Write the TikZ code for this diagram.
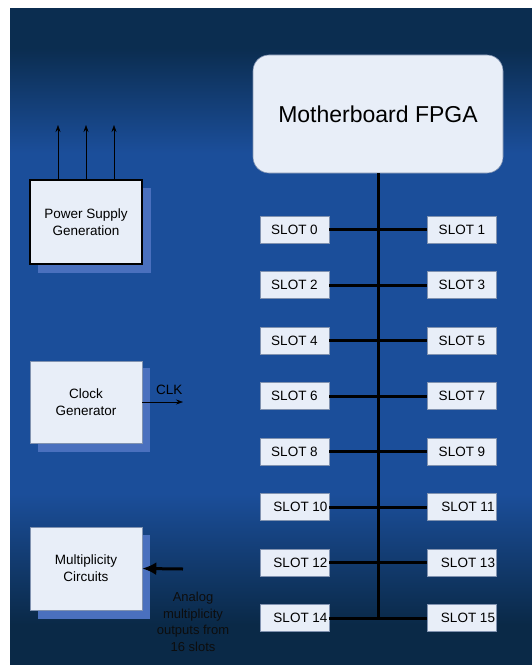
\documentclass[tikz,border=0pt]{standalone}
\usepackage{fontspec}
\setmainfont{Liberation Sans}
\usetikzlibrary{arrows.meta}

\definecolor{navytop}{HTML}{0B2D50}
\definecolor{navybot}{HTML}{0A2947}
\definecolor{midblue}{HTML}{1B4E9A}
\definecolor{boxfill}{HTML}{E8EEF8}
\definecolor{boxline}{HTML}{8092B0}
\definecolor{shadowblue}{HTML}{4A70BE}

% vertical backdrop: dark at both ends, bright blue in the middle
% (TikZ fits the central 25bp--75bp band of the shading to the path)
\pgfdeclareverticalshading{boardbg}{100bp}{%
  color(0bp)=(navybot); color(28bp)=(navybot); color(38bp)=(midblue);
  color(64bp)=(midblue); color(72bp)=(navytop); color(100bp)=(navytop)}

\tikzset{
  slotbox/.style={draw=boxline, line width=0.6pt, fill=boxfill,
    minimum width=69pt, minimum height=27pt, inner sep=0pt,
    font=\fontsize{13.5}{16}\selectfont},
  fpgabox/.style={draw=boxline, line width=0.6pt, fill=boxfill,
    rounded corners=16pt, minimum width=250pt, minimum height=118pt,
    font=\fontsize{23}{27}\selectfont},
  blockbox/.style={draw=boxline, line width=0.6pt, fill=boxfill,
    minimum width=112pt, minimum height=83pt, inner sep=0pt, align=center,
    font=\fontsize{13.5}{17}\selectfont},
  shadowbox/.style={fill=shadowblue},
  bus/.style={line width=3pt, black},
  thinarrow/.style={line width=0.6pt, -{Stealth[length=7pt,width=5pt]}},
}

\begin{document}
\begin{tikzpicture}[x=1pt, y=-1pt]
  \useasboundingbox (0,0) rectangle (532,666);
  \fill[white] (0,0) rectangle (532,666);
  \shade[shading=boardbg] (10,9) rectangle (532,664);

  % motherboard FPGA and the slot bus
  \node[fpgabox] (fpga) at (378,114) {Motherboard FPGA};

  \foreach \n/\y in {0/229.5, 2/285, 4/340.5, 6/396, 8/451.5} {
    \node[slotbox] (s\n) at (294.5,\y) {SLOT \n};
  }
  \foreach \n/\y in {10/507, 12/562.5, 14/618} {
    \node[slotbox] (s\n) at (294.5,\y) {\hspace*{12pt}SLOT \n};
  }
  \foreach \n/\y in {1/229.5, 3/285, 5/340.5, 7/396, 9/451.5} {
    \node[slotbox] (s\n) at (462,\y) {SLOT \n};
  }
  \foreach \n/\y in {11/507, 13/562.5, 15/618} {
    \node[slotbox] (s\n) at (462,\y) {\hspace*{12pt}SLOT \n};
  }

  \coordinate (busend) at (fpga.south |- s14.east);
  \draw[bus] (fpga.south) -- ([yshift=1.5pt]busend);
  \foreach \a/\b in {0/1, 2/3, 4/5, 6/7, 8/9, 10/11, 12/13, 14/15} {
    \draw[bus] (s\a.east) -- (s\b.west);
  }

  % power supply block
  \fill[shadowbox] (38,188) rectangle (151,273);
  \node[blockbox, draw=black, line width=1.6pt, minimum height=84pt]
    (psu) at (86,222) {Power Supply\\Generation};
  \coordinate (pA) at (58,125);
  \coordinate (pB) at (86,125);
  \coordinate (pC) at (114,125);
  \draw[thinarrow] (psu.north -| pA) -- (pA);
  \draw[thinarrow] (psu.north) -- (pB);
  \draw[thinarrow] (psu.north -| pC) -- (pC);

  % clock generator block
  \fill[shadowbox] (38,368) rectangle (150,452);
  \node[blockbox, minimum height=82pt] (clk) at (86,402) {Clock\\Generator};
  \coordinate (clkout) at (183,402);
  \draw[thinarrow] (clk.east) -- (clkout)
    node[pos=0.66, above=4pt, font=\fontsize{13.5}{16}\selectfont] {CLK};

  % multiplicity block
  \fill[shadowbox] (38,535) rectangle (150,619);
  \node[blockbox] (mult) at (86,568.5) {Multiplicity\\Circuits};
  \coordinate (anin) at (183,569);
  \draw[line width=3pt, -{Latex[length=14pt,width=13pt]}] (anin) -- (mult.east);
  \node[align=center, font=\fontsize{13}{16.5}\selectfont, text=black!95]
    (anlabel) at (193,622) {Analog\\multiplicity\\outputs from\\16 slots};
\end{tikzpicture}
\end{document}
